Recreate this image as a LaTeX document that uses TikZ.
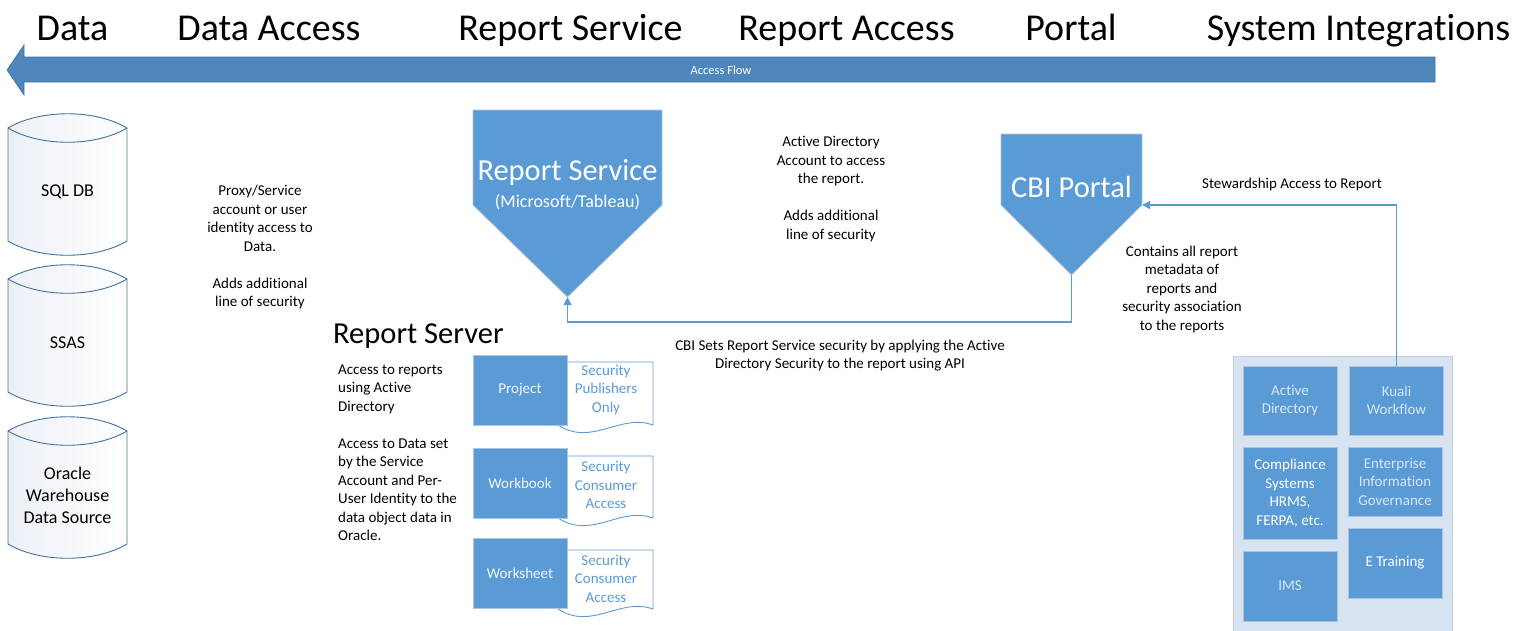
\documentclass[tikz,border=0pt]{standalone}
\usepackage{fontspec}
\setmainfont{Carlito}[Ligatures=NoCommon]
\usetikzlibrary{arrows.meta}
\definecolor{flow}{HTML}{4E87BC}
\definecolor{flowedge}{HTML}{41719C}
\definecolor{tile}{HTML}{5B9BD5}
\definecolor{tileedge}{HTML}{B0C4DA}
\definecolor{pale}{HTML}{D8E5F4}
\definecolor{panel}{HTML}{D7E3F1}
\definecolor{paneledge}{HTML}{C4CFDC}
\definecolor{dbedge}{HTML}{41719C}
\definecolor{dbfill}{HTML}{ECF0F6}
\definecolor{wire}{HTML}{5B9BD5}
\definecolor{docedge}{HTML}{5B9BD5}
\begin{document}
\begin{tikzpicture}[x=1pt,y=-1pt,
  head/.style={font=\fontsize{38}{44}\selectfont, inner sep=0pt, anchor=base},
  note/.style={font=\fontsize{15}{18.5}\selectfont, align=center, inner sep=0pt},
  bigtitle/.style={font=\fontsize{30.5}{36}\selectfont, inner sep=0pt, text=white, anchor=base},
  dbtext/.style={font=\fontsize{18}{22}\selectfont, align=center, inner sep=0pt},
  dbshape/.style={draw=dbedge, line width=0.9pt, left color=dbfill, right color=white},
  shield/.style={fill=tile, draw=tileedge, line width=0.8pt},
  tilebox/.style={fill=tile, draw=tileedge, line width=1pt, inner sep=0pt,
    minimum width=94pt, font=\fontsize{15}{18.5}\selectfont, align=center},
  docshape/.style={draw=docedge, fill=white, line width=0.9pt},
  doctext/.style={font=\fontsize{15}{18.5}\selectfont, align=center, inner sep=0pt, text=tile},
  link/.style={draw=wire, line width=1.2pt, -{Triangle[length=8pt,width=8pt]}}]
\useasboundingbox (0,0) rectangle (1520,630);

% column headings
\node[head] (hdata)   at (72.5,40)  {Data};
\node[head] (hdacc)   at (269,40)   {Data Access};
\node[head] (hrserv)  at (570.5,40) {Report Service};
\node[head] (hracc)   at (846.5,40) {Report Access};
\node[head] (hportal) at (1071,40)  {Portal};
\node[head] (hsys)    at (1358.5,40){System Integrations};

% access flow arrow
\fill[flow, draw=flowedge, line width=0.6pt]
  (7,70) -- (24,45) -- (24,57) -- (1435,57) -- (1435,82) -- (24,82) -- (24,95) -- cycle;
\node[font=\fontsize{12.5}{14}\selectfont, text=white, inner sep=0pt] (flowlabel) at (721,70) {Access Flow};

% data sources (cylinders)
\foreach \yy in {112,263,415} {
  \path[dbshape]
    (8,\yy+16) -- (8,\yy+129)
    .. controls (40,\yy+148) and (95,\yy+148) .. (127,\yy+129)
    -- (127,\yy+16)
    .. controls (95,\yy-3) and (40,\yy-3) .. (8,\yy+16) -- cycle;
  \draw[draw=dbedge, line width=0.9pt]
    (8,\yy+16) .. controls (40,\yy+35) and (95,\yy+35) .. (127,\yy+16);
}
\node[dbtext] (sqldb)  at (67.5,192) {SQL DB};
\node[dbtext] (ssas)   at (67.5,343) {SSAS};
\node[dbtext] (oracle) at (67.5,495) {Oracle\\Warehouse\\Data Source};

% notes
\node[note] (proxynote) at (260,247)
  {Proxy/Service\\account or user\\identity access to\\Data.\\[18.5pt]Adds additional\\line of security};
\node[note] (adnote) at (831,189)
  {Active Directory\\Account to access\\the report.\\[18.5pt]Adds additional\\line of security};
\node[note] (apinote) at (840,355.5)
  {CBI Sets Report Service security by applying the Active\\Directory Security to the report using API};
\node[note] (metanote) at (1182,289)
  {Contains all report\\metadata of\\reports and\\security association\\to the reports};
\node[note] (stewnote) at (1292,184) {Stewardship Access to Report};

% report service shield
\draw[shield] (473,110) -- (662,110) -- (662,205) -- (567.5,297) -- (473,205) -- cycle;
\coordinate (rstip) at (567.5,297);
\node[bigtitle] (rstitle) at (567.5,180) {Report Service};
\node[font=\fontsize{18}{22}\selectfont, text=white, inner sep=0pt, anchor=base] (rssub) at (567.5,207) {(Microsoft/Tableau)};

% CBI portal shield
\draw[shield] (1001,134) -- (1142,134) -- (1142,205) -- (1071.5,275) -- (1001,205) -- cycle;
\coordinate (cbitip) at (1071.5,275);
\coordinate (cbiright) at (1142,205);
\node[bigtitle] (cbititle) at (1071.5,197) {CBI Portal};

% report server
\node[font=\fontsize{30.5}{36}\selectfont, inner sep=0pt, anchor=base west] (rsvtitle) at (333,343) {Report Server};
\node[note, align=left, anchor=west] (rsvnote) at (338,452.5)
  {Access to reports\\using Active\\Directory\\[18.5pt]Access to Data set\\by the Service\\Account and Per-\\User Identity to the\\data object data in\\Oracle.};

% security documents behind the content tiles
\draw[docshape] (558,362) -- (653,362) -- (653,425) .. controls (620,413) and (592,447) .. (558,425) -- cycle;
\draw[docshape] (558,456) -- (653,456) -- (653,518) .. controls (620,506) and (592,540) .. (558,518) -- cycle;
\draw[docshape] (558,550) -- (653,550) -- (653,609) .. controls (620,597) and (592,631) .. (558,609) -- cycle;
\node[doctext] (projsec) at (606,390)   {Security\\Publishers\\Only};
\node[doctext] (booksec) at (606,485)   {Security\\Consumer\\Access};
\node[doctext] (sheetsec) at (606,578.5){Security\\Consumer\\Access};

\node[tilebox, minimum height=70pt, text=white!93!tile] (project)   at (520,390) {Project};
\node[tilebox, minimum height=70pt, text=white!93!tile] (workbook)  at (520,483) {Workbook};
\node[tilebox, minimum height=70pt, text=white!93!tile] (worksheet) at (520,573) {Worksheet};

% system integrations panel
\fill[panel, draw=paneledge, line width=0.8pt] (1233,356) rectangle (1452,634);
\node[tilebox, minimum height=69pt, text=pale]  (actdir)  at (1290,400.5)  {Active\\Directory};
\node[tilebox, minimum height=69pt, text=pale]  (kuali)   at (1396.5,400.5){Kuali\\Workflow};
\node[tilebox, minimum height=92pt, text=white] (comply)  at (1290,493)    {Compliance\\Systems\\HRMS,\\FERPA, etc.};
\node[tilebox, minimum height=69pt, text=pale]  (eig)     at (1395,481.5)  {Enterprise\\Information\\Governance};
\node[tilebox, minimum height=70pt, text=pale]  (ims)     at (1290,586)    {IMS};
\node[tilebox, minimum height=70pt, text=white] (etrain)  at (1395,563)    {E Training};

% connectors
\draw[link] (cbitip) -- ++(0,47) -| (rstip);
\draw[link] (kuali.north) |- (cbiright);
\end{tikzpicture}
\end{document}
